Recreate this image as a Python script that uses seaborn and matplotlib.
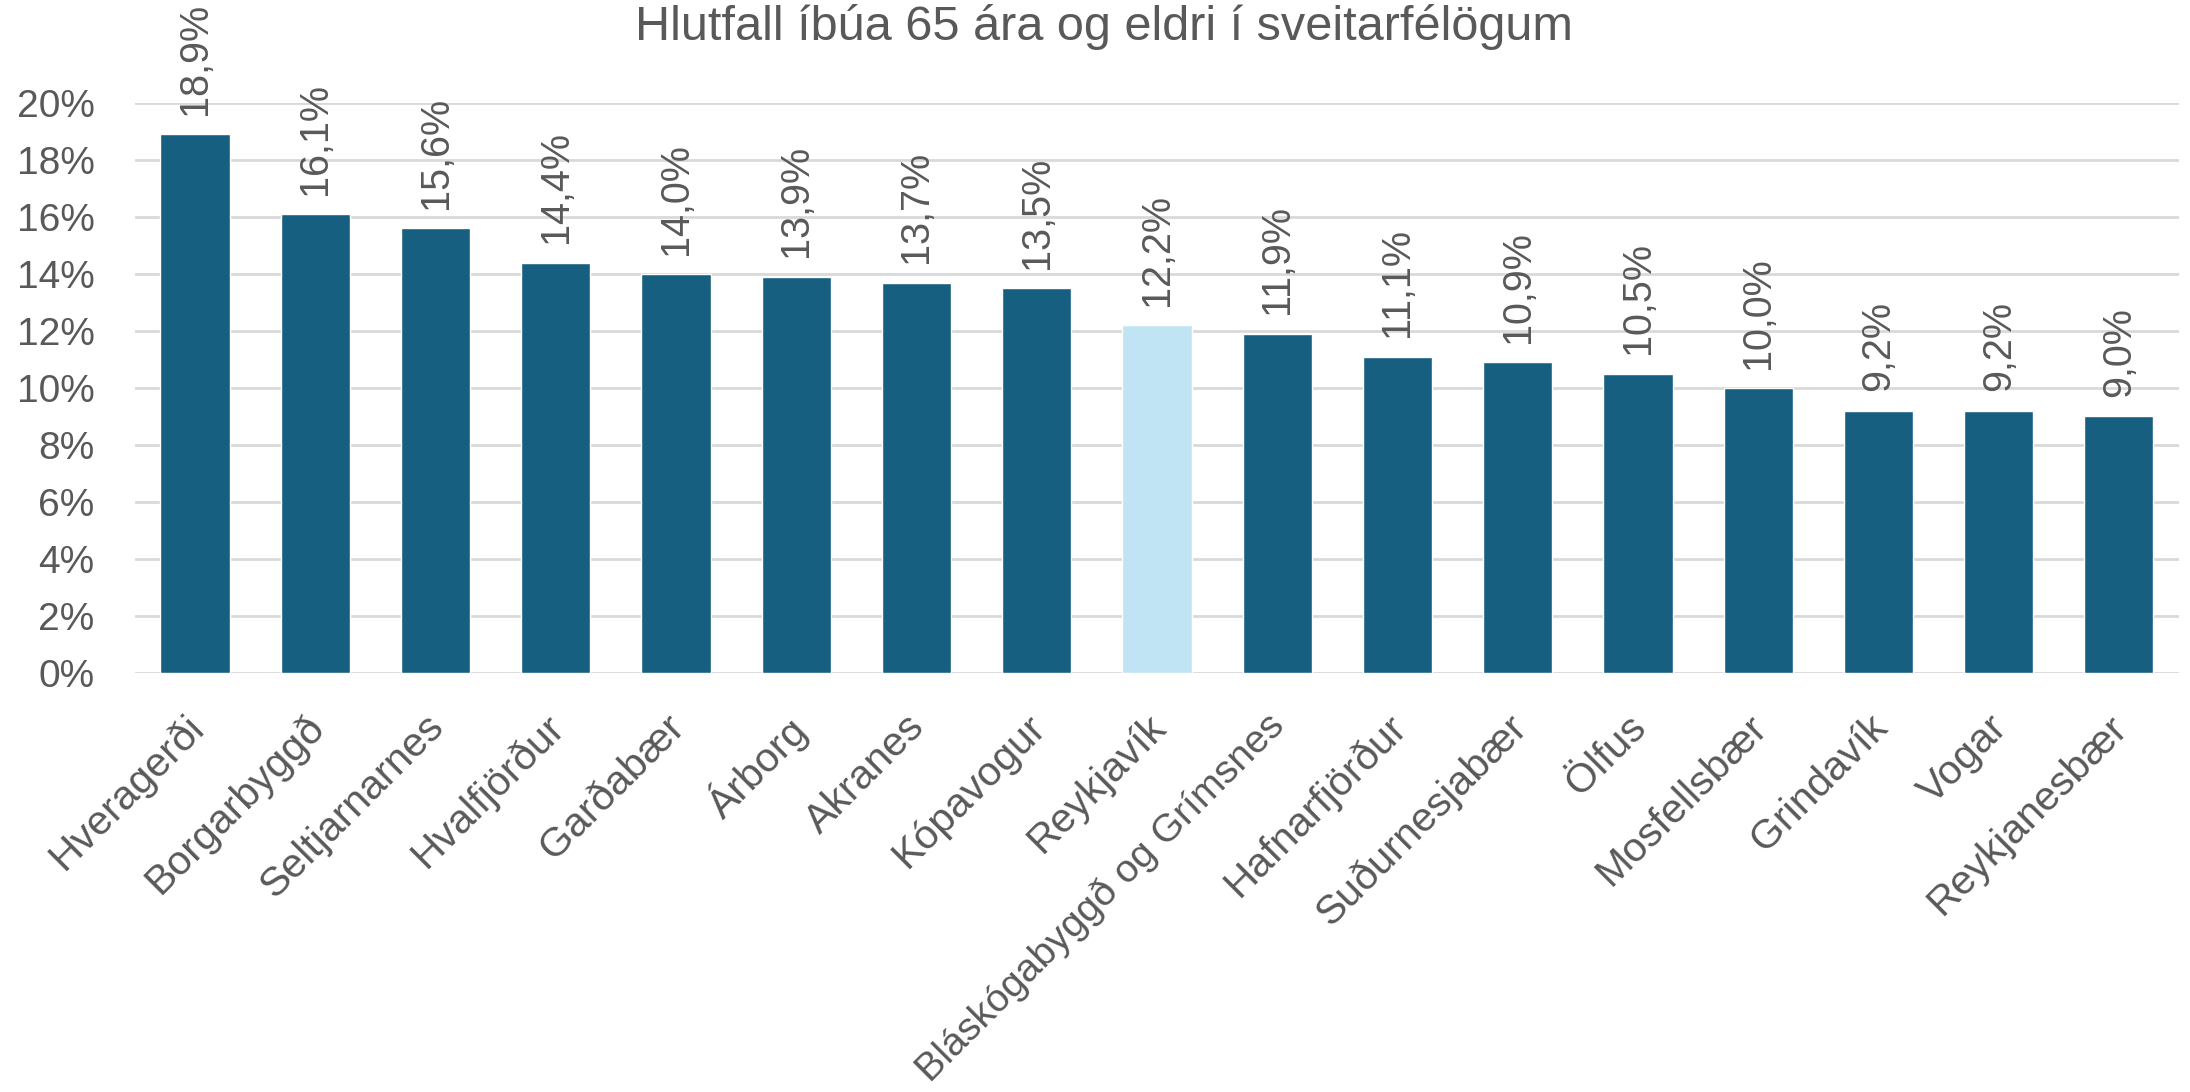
import matplotlib
matplotlib.use("Agg")
import matplotlib.pyplot as plt
import matplotlib.transforms as mtransforms
from matplotlib.ticker import FuncFormatter
import seaborn as sns
import pandas as pd

categories = ["Hveragerði", "Borgarbyggð", "Seltjarnarnes", "Hvalfjörður", "Garðabær",
              "Árborg", "Akranes", "Kópavogur", "Reykjavík", "Bláskógabyggð og Grímsnes",
              "Hafnarfjörður", "Suðurnesjabær", "Ölfus", "Mosfellsbær", "Grindavík",
              "Vogar", "Reykjanesbær"]
values = [18.9, 16.1, 15.6, 14.4, 14.0, 13.9, 13.7, 13.5, 12.2, 11.9, 11.1, 10.9,
          10.5, 10.0, 9.2, 9.2, 9.0]
highlight = "Reykjavík"
title = "Hlutfall íbúa 65 ára og eldri í sveitarfélögum"

dark = "#175F80"
light = "#C1E4F4"
text_color = "#595959"
grid_color = "#D9D9D9"

sns.set_theme(style="white")
plt.rcParams["font.family"] = ["Liberation Sans", "DejaVu Sans"]

df = pd.DataFrame({"sveitarfelag": categories, "hlutfall": values})
palette = {c: (light if c == highlight else dark) for c in categories}

fig = plt.figure(figsize=(21.9, 10.92), dpi=100)
ax = fig.add_axes([0.0616, 0.3837, 0.9334, 0.522])
sns.barplot(data=df, x="sveitarfelag", y="hlutfall", hue="sveitarfelag",
            palette=palette, legend=False, width=0.575, saturation=1, ax=ax, zorder=3)

ax.set_ylim(0, 20)
ax.set_xlim(-0.5, len(categories) - 0.5)
ax.set_yticks(range(0, 21, 2))
ax.yaxis.set_major_formatter(FuncFormatter(lambda v, p: f"{int(v)}%"))
ax.grid(axis="y", color=grid_color, linewidth=2, zorder=0)
ax.set_axisbelow(True)
for s in ax.spines.values():
    s.set_visible(False)
ax.tick_params(axis="both", length=0)
ax.set_xlabel("")
ax.set_ylabel("")

ax.tick_params(axis="y", pad=29, labelsize=28, labelcolor=text_color)
ax.tick_params(axis="x", pad=25)
ax.set_xticks(range(len(categories)))
ax.set_xticklabels(categories, rotation=45, ha="right", rotation_mode="anchor",
                   fontsize=29.5, color=text_color)
shift = mtransforms.ScaledTranslation(-0.11, 0, fig.dpi_scale_trans)
for lab in ax.get_xticklabels():
    lab.set_transform(lab.get_transform() + shift)
    if len(lab.get_text()) > 20:
        lab.set_fontsize(28.3)

for i, v in enumerate(values):
    ax.annotate(f"{v:.1f}%".replace(".", ","), xy=(i, v), xytext=(0, 14),
                textcoords="offset points", rotation=90, ha="center", va="bottom",
                fontsize=28.5, color=text_color, annotation_clip=False)

fig.text(0.504, 0.975, title, ha="center", va="center", fontsize=35, color=text_color)

fig.savefig("out.png", dpi=100, facecolor="white")
